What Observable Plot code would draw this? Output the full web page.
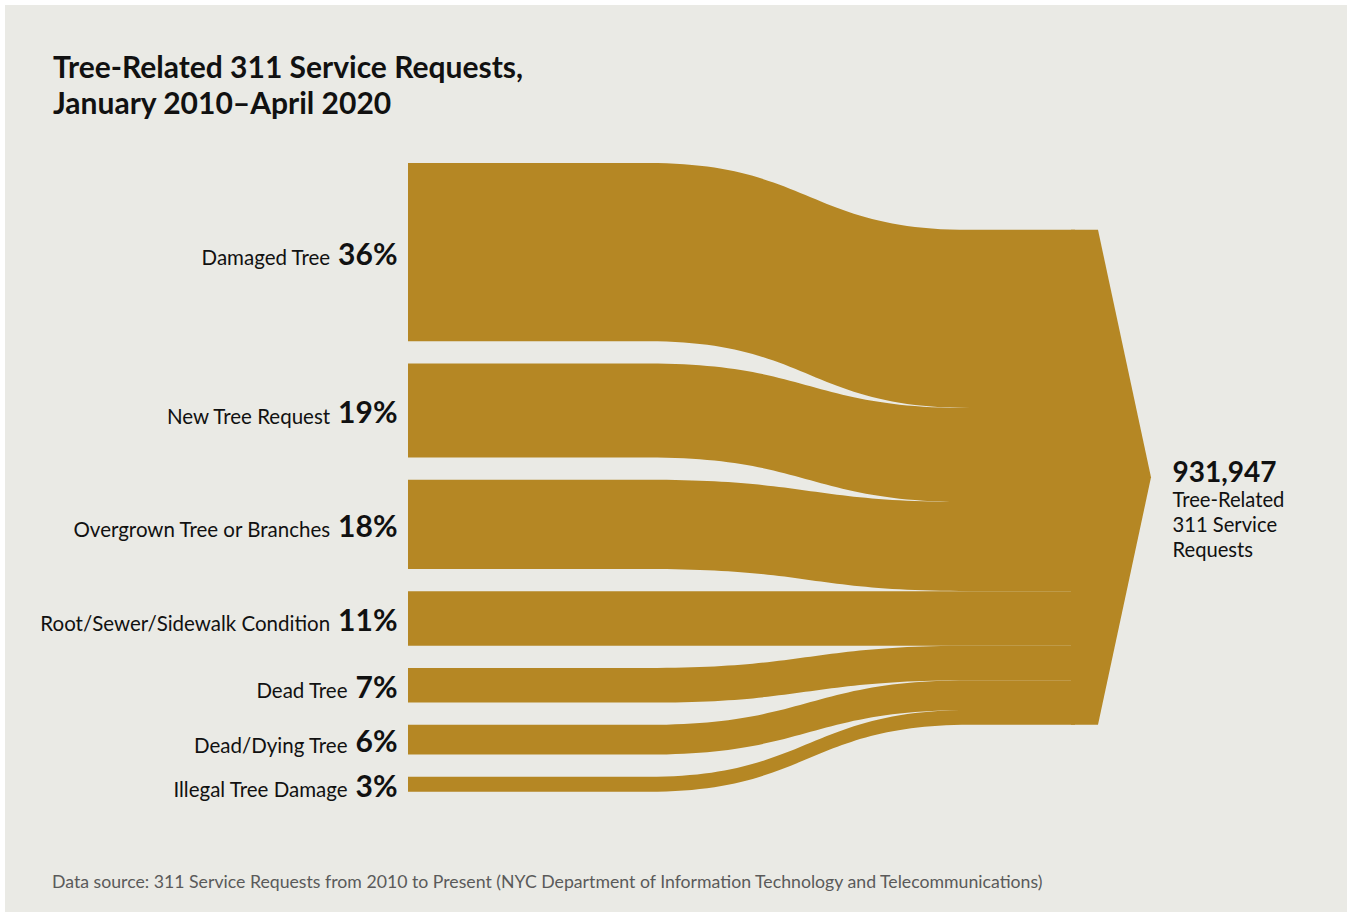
<!DOCTYPE html>
<html>
<head>
<meta charset="utf-8">
<script src="https://cdn.jsdelivr.net/npm/d3@7"></script>
<script src="https://cdn.jsdelivr.net/npm/@observablehq/plot@0.6"></script>
<style>
  body { margin: 0; background: #ffffff; font-family: Lato, "Open Sans", sans-serif; }
  #panel { position: absolute; left: 5px; top: 5px; width: 1342px; height: 907px; background: #EAEAE5; overflow: hidden; }
  #title { position: absolute; left: 48px; top: 43px; margin: 0; font: 700 30px/36px Lato, sans-serif; color: #111; }
  #chart { position: absolute; left: 0; top: 135px; }
  #caption { position: absolute; left: 47px; top: 866px; font: 400 17.7px/1.2 Lato, sans-serif; color: #5a5a5a; white-space: nowrap; }
</style>
</head>
<body>
<div id="panel">
  <h1 id="title">Tree-Related 311 Service Requests,<br>January 2010–April 2020</h1>
  <div id="chart"></div>
  <div id="caption">Data source: 311 Service Requests from 2010 to Present (NYC Department of Information Technology and Telecommunications)</div>
</div>
<script>
// ---- data ----
const categories = [
  "Damaged Tree",
  "New Tree Request",
  "Overgrown Tree or Branches",
  "Root/Sewer/Sidewalk Condition",
  "Dead Tree",
  "Dead/Dying Tree",
  "Illegal Tree Damage"
];
const shares = [36, 19, 18, 11, 7, 6, 3];
const shareLabels = ["36%", "19%", "18%", "11%", "7%", "6%", "3%"];
const totalRequests = 931947;
const totalLabelLines = ["Tree-Related", "311 Service", "Requests"];

// ---- layout (pixels / styling, not data) ----
const W = 1342, H = 700;
const gold = "#B58724";
const pxPerPct = 4.95;
const gapPct = 4.5;                 // gap between left bars, in share units
const stage = { barStart: 403, curveStart: 643, curveEnd: 965, flatEnd: 1070, arrowStart: 1066, arrowBase: 1093, tip: 1146 };

// ---- derived stacks ----
const sum = d3.sum(shares);
const total = sum + gapPct * (shares.length - 1);
const rightTop = (total - sum) / 2;
const mid = total / 2;
let lcum = 0, rcum = rightTop;
const bands = categories.map((cat, i) => {
  const b = { cat, share: shares[i], label: shareLabels[i], L0: lcum, L1: lcum + shares[i], R0: rcum, R1: rcum + shares[i] };
  lcum += shares[i] + gapPct;
  rcum += shares[i];
  return b;
});

const flowPts = bands.flatMap(b => [
  { cat: b.cat, x: stage.barStart,   y1: b.L0, y2: b.L1 },
  { cat: b.cat, x: stage.curveStart, y1: b.L0, y2: b.L1 },
  { cat: b.cat, x: stage.curveEnd,   y1: b.R0, y2: b.R1 },
  { cat: b.cat, x: stage.flatEnd,    y1: b.R0, y2: b.R1 }
]);
const arrowPts = [
  { x: stage.arrowStart, y1: rightTop, y2: rightTop + sum },
  { x: stage.arrowBase,  y1: rightTop, y2: rightTop + sum },
  { x: stage.tip,        y1: mid,      y2: mid }
];

// text measurement for the two-part labels
const pctSize = 30, nameSize = 20.5;
const ctx = document.createElement("canvas").getContext("2d");
ctx.font = `700 ${pctSize}px Lato`;
const pctPad = 11, wordGap = 8;
const labelRows = bands.map(b => ({
  ...b,
  yc: (b.L0 + b.L1) / 2,
  nameX: stage.barStart - pctPad - ctx.measureText(b.label).width - wordGap
}));

const chart = Plot.plot({
  width: W,
  height: H,
  marginLeft: 0, marginRight: 0, marginTop: 0, marginBottom: 0,
  x: { domain: [0, W], axis: null },
  y: { domain: [0, total], range: [23, 23 + total * pxPerPct], axis: null },
  style: { background: "transparent", fontFamily: "Lato, sans-serif", color: "#111" },
  marks: [
    Plot.areaY(flowPts, { x: "x", y1: "y1", y2: "y2", z: "cat", fill: gold, curve: "bump-x" }),
    Plot.areaY(arrowPts, { x: "x", y1: "y1", y2: "y2", fill: gold, curve: "linear" }),
    Plot.text(labelRows, { x: stage.barStart, y: "yc", text: "label", dx: -pctPad, textAnchor: "end", lineAnchor: "middle", dy: 2.5, fontSize: pctSize, fontWeight: 700, fill: "#111" }),
    Plot.text(labelRows, { x: "nameX", y: "yc", text: "cat", textAnchor: "end", lineAnchor: "middle", dy: 6, fontSize: nameSize, fontWeight: 400, fill: "#111" }),
    Plot.text([mid], { x: stage.tip, y: d => d, text: () => d3.format(",")(totalRequests), dx: 21, dy: -4.5, textAnchor: "start", lineAnchor: "middle", fontSize: 28, fontWeight: 700, fill: "#111" }),
    Plot.text([mid], { x: stage.tip, y: d => d, text: () => totalLabelLines.join("\n"), dx: 21, dy: 11.5, textAnchor: "start", lineAnchor: "top", lineHeight: 1.235, fontSize: 20.2, fontWeight: 400, fill: "#111" })
  ]
});
document.getElementById("chart").appendChild(chart);
</script>
</body>
</html>
